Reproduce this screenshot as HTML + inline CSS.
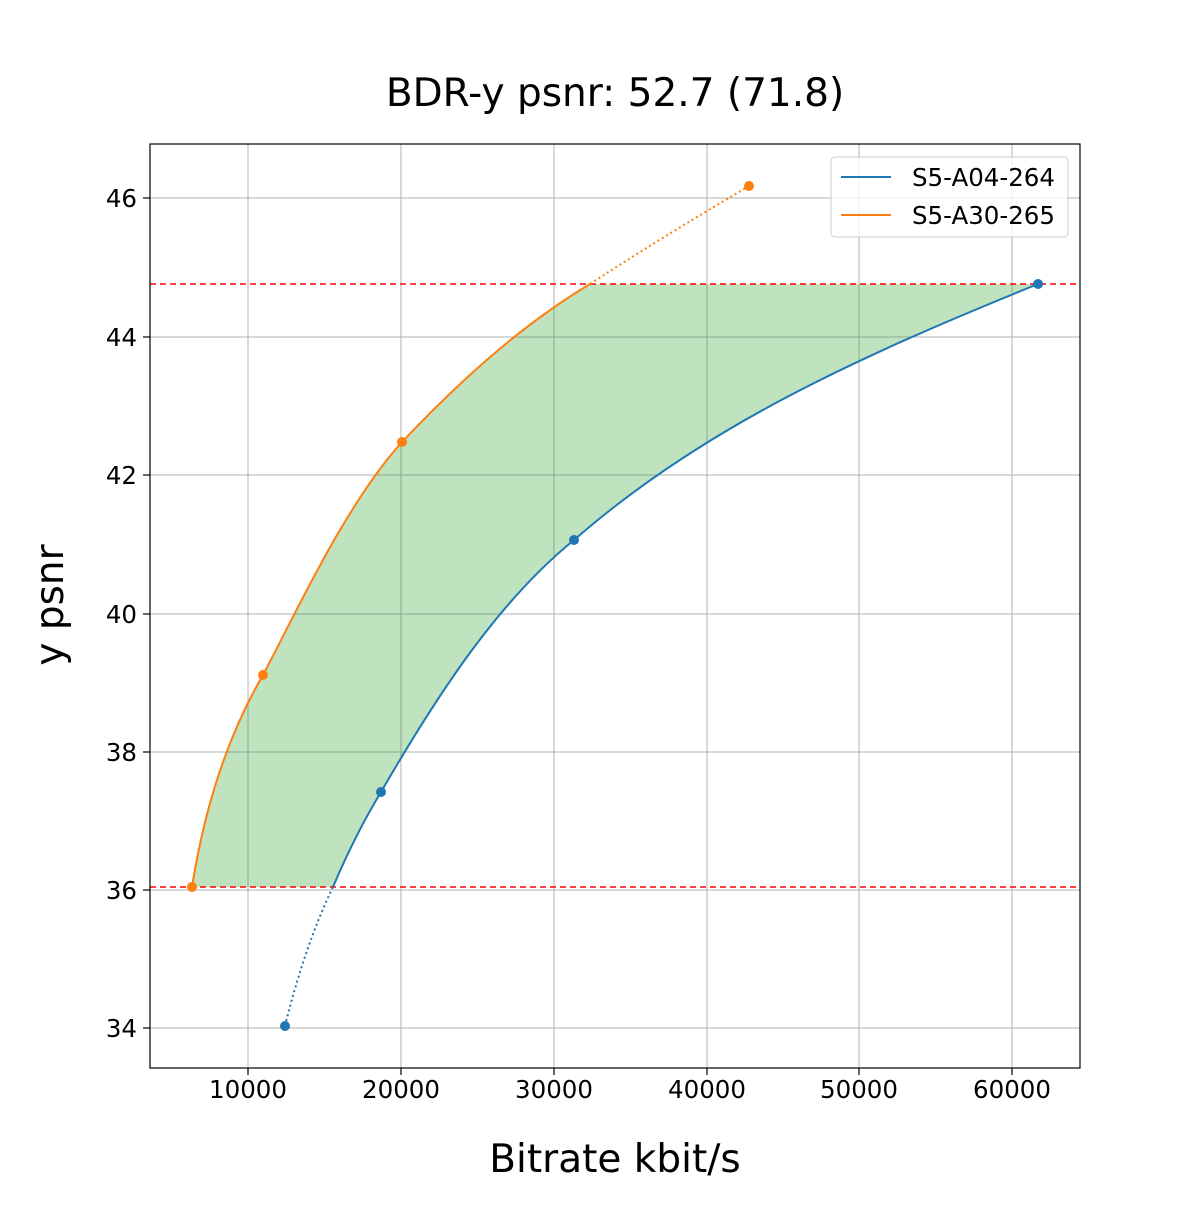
<!DOCTYPE html>
<html><head><meta charset="utf-8"><style>body{margin:0;background:#fff}</style></head>
<body>
<svg width="1200" height="1200" viewBox="0 0 1200 1200" xmlns="http://www.w3.org/2000/svg" font-family="DejaVu Sans, sans-serif">
<rect width="1200" height="1200" fill="#fff"/>
<text x="615" y="106" font-size="39" text-anchor="middle">BDR-y psnr: 52.7 (71.8)</text>
<g stroke="#b0b0b0" stroke-width="1">
<line x1="248" y1="144" x2="248" y2="1068"/><line x1="401" y1="144" x2="401" y2="1068"/>
<line x1="554" y1="144" x2="554" y2="1068"/><line x1="707" y1="144" x2="707" y2="1068"/>
<line x1="859" y1="144" x2="859" y2="1068"/><line x1="1012" y1="144" x2="1012" y2="1068"/>
<line x1="150" y1="198" x2="1080" y2="198"/><line x1="150" y1="337" x2="1080" y2="337"/>
<line x1="150" y1="475" x2="1080" y2="475"/><line x1="150" y1="614" x2="1080" y2="614"/>
<line x1="150" y1="752" x2="1080" y2="752"/><line x1="150" y1="890" x2="1080" y2="890"/>
<line x1="150" y1="1028" x2="1080" y2="1028"/>
</g>
<path d="M192,887 C205,805 228,735 263,675 C295,615 345,505 402,442 C470,370 530,320 590,284 L1038,284 C850,360 700,430 574,540 C500,600 440,690 381,792 Q355,835 333,887 Z" fill="#2ca02c" fill-opacity="0.3"/>
<line x1="150" y1="284" x2="1080" y2="284" stroke="#ff0000" stroke-width="1.5" stroke-dasharray="6,4"/>
<line x1="150" y1="887" x2="1080" y2="887" stroke="#ff0000" stroke-width="1.5" stroke-dasharray="6,4"/>
<path d="M333,887 Q355,835 381,792 C440,690 500,600 574,540 C700,430 850,360 1038,284" fill="none" stroke="#1f77b4" stroke-width="2"/>
<path d="M285,1026 Q305,945 333,887" fill="none" stroke="#1f77b4" stroke-width="2" stroke-dasharray="2,3"/>
<path d="M192,887 C205,805 228,735 263,675 C295,615 345,505 402,442 C470,370 530,320 590,284" fill="none" stroke="#ff7f0e" stroke-width="2"/>
<path d="M590,284 C650,245 700,215 749,186" fill="none" stroke="#ff7f0e" stroke-width="2" stroke-dasharray="2,3"/>
<g fill="#1f77b4"><circle cx="285" cy="1026" r="5"/><circle cx="381" cy="792" r="5"/><circle cx="574" cy="540" r="5"/><circle cx="1038" cy="284" r="5"/></g>
<g fill="#ff7f0e"><circle cx="192" cy="887" r="5"/><circle cx="263" cy="675" r="5"/><circle cx="402" cy="442" r="5"/><circle cx="749" cy="186" r="5"/></g>
<rect x="150" y="144" width="930" height="924" fill="none" stroke="#000" stroke-width="1.2"/>
<g stroke="#000" stroke-width="1.2">
<line x1="248" y1="1068" x2="248" y2="1075"/><line x1="401" y1="1068" x2="401" y2="1075"/>
<line x1="554" y1="1068" x2="554" y2="1075"/><line x1="707" y1="1068" x2="707" y2="1075"/>
<line x1="859" y1="1068" x2="859" y2="1075"/><line x1="1012" y1="1068" x2="1012" y2="1075"/>
<line x1="143" y1="198" x2="150" y2="198"/><line x1="143" y1="337" x2="150" y2="337"/>
<line x1="143" y1="475" x2="150" y2="475"/><line x1="143" y1="614" x2="150" y2="614"/>
<line x1="143" y1="752" x2="150" y2="752"/><line x1="143" y1="890" x2="150" y2="890"/>
<line x1="143" y1="1028" x2="150" y2="1028"/>
</g>
<g font-size="24.5" text-anchor="middle">
<text x="248" y="1098">10000</text><text x="401" y="1098">20000</text><text x="554" y="1098">30000</text>
<text x="707" y="1098">40000</text><text x="859" y="1098">50000</text><text x="1012" y="1098">60000</text>
</g>
<g font-size="24.5" text-anchor="end">
<text x="137" y="207">46</text><text x="137" y="346">44</text><text x="137" y="484">42</text>
<text x="137" y="623">40</text><text x="137" y="761">38</text><text x="137" y="899">36</text><text x="137" y="1037">34</text>
</g>
<text x="615" y="1172" font-size="39" text-anchor="middle">Bitrate kbit/s</text>
<text transform="translate(63,605) rotate(-90)" font-size="39" text-anchor="middle">y psnr</text>
<rect x="831" y="157" width="237" height="80" rx="4" fill="#fff" fill-opacity="0.8" stroke="#ccc"/>
<line x1="841" y1="177" x2="891" y2="177" stroke="#1f77b4" stroke-width="2"/>
<line x1="841" y1="215" x2="891" y2="215" stroke="#ff7f0e" stroke-width="2"/>
<text x="912" y="186" font-size="24.5">S5-A04-264</text>
<text x="912" y="224" font-size="24.5">S5-A30-265</text>
</svg>
</body></html>
